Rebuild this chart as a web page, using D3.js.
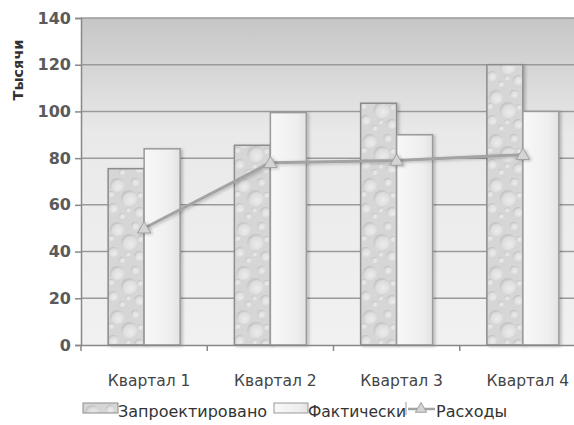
<!DOCTYPE html>
<html>
<head>
<meta charset="utf-8">
<script src="https://cdn.jsdelivr.net/npm/d3@7"></script>
<style>
  body { margin: 0; background: #fff; }
  svg { display: block; }
  svg text { font-family: "DejaVu Sans", Verdana, sans-serif; }
</style>
</head>
<body>
<div id="chart"></div>
<script>
// data
var categories = ["Квартал 1", "Квартал 2", "Квартал 3", "Квартал 4"];
var planned = [75.5, 85.5, 103.5, 120];
var actual = [84, 99.5, 90, 100];
var expenses = [50, 78, 79, 81.5];
var yTicks = [0, 20, 40, 60, 80, 100, 120, 140];
var seriesNames = ["Запроектировано", "Фактически", "Расходы"];

var W = 574, H = 425;
var box = {x1: 81, y1: 18, x2: 586, y2: 345};

var svg = d3.select("#chart").append("svg")
  .attr("width", W).attr("height", H);

var defs = svg.append("defs");

// plot background gradient
var bg = defs.append("linearGradient").attr("id", "bgGrad")
  .attr("x1", 0).attr("y1", 0).attr("x2", 0).attr("y2", 1);
bg.append("stop").attr("offset", "0").attr("stop-color", "#c6c6c6");
bg.append("stop").attr("offset", "0.35").attr("stop-color", "#e9e9e9");
bg.append("stop").attr("offset", "1").attr("stop-color", "#f1f1f1");

// actual bars gradient
var ag = defs.append("linearGradient").attr("id", "actGrad")
  .attr("x1", 0).attr("y1", 0).attr("x2", 1).attr("y2", 0);
ag.append("stop").attr("offset", "0").attr("stop-color", "#f8f8f8");
ag.append("stop").attr("offset", "0.75").attr("stop-color", "#eeeeee");
ag.append("stop").attr("offset", "1").attr("stop-color", "#e2e2e2");

// water drop texture for planned bars
var pat = defs.append("pattern").attr("id", "drops")
  .attr("patternUnits", "userSpaceOnUse")
  .attr("width", 36).attr("height", 44);
pat.append("rect").attr("width", 36).attr("height", 44).attr("fill", "#d6d6d6");
var dropG = defs.append("radialGradient").attr("id", "dropGrad")
  .attr("cx", 0.6).attr("cy", 0.65).attr("r", 0.6);
dropG.append("stop").attr("offset", "0").attr("stop-color", "#ececec");
dropG.append("stop").attr("offset", "0.75").attr("stop-color", "#dddddd");
dropG.append("stop").attr("offset", "1").attr("stop-color", "#c4c4c4");
[[9, 9, 7], [27, 6, 4], [21, 22, 8], [5, 32, 5], [31, 36, 5], [14, 40, 3], [32, 19, 3], [3, 18, 3], [20, 34, 2.5]].forEach(function(d){
  pat.append("circle").attr("cx", d[0]).attr("cy", d[1]).attr("r", d[2])
    .attr("fill", "url(#dropGrad)");
});

var shadow = defs.append("filter").attr("id", "shadow")
  .attr("x", "-20%").attr("y", "-20%").attr("width", "150%").attr("height", "150%");
shadow.append("feDropShadow").attr("dx", 2).attr("dy", 1).attr("stdDeviation", 1.5)
  .attr("flood-color", "#000").attr("flood-opacity", 0.22);

// scales
var x = d3.scaleBand().domain(categories).range([box.x1, box.x2]);
var inner = d3.scaleBand().domain(["p", "a"]).range([0, 72]);
var y = d3.scaleLinear().domain([0, 140]).range([box.y2, box.y1]);

// plot area
svg.append("rect")
  .attr("x", box.x1).attr("y", box.y1)
  .attr("width", box.x2 - box.x1).attr("height", box.y2 - box.y1)
  .attr("fill", "url(#bgGrad)");

// gridlines
svg.append("g").selectAll("line").data(yTicks.slice(1)).join("line")
  .attr("x1", box.x1).attr("x2", box.x2)
  .attr("y1", function(d){ return y(d); }).attr("y2", function(d){ return y(d); })
  .attr("stroke", "#9a9a9a").attr("stroke-width", 1.5);

// bars
var groups = svg.append("g").selectAll("g").data(categories).join("g")
  .attr("transform", function(d){ return "translate(" + (x(d) + x.bandwidth() / 2 - 36) + ",0)"; });

groups.append("rect")
  .attr("x", inner("p"))
  .attr("y", function(d, i){ return y(planned[i]); })
  .attr("width", inner.bandwidth())
  .attr("height", function(d, i){ return y(0) - y(planned[i]); })
  .attr("fill", "url(#drops)")
  .attr("stroke", "#8c8c8c").attr("stroke-width", 1.5)
  .attr("filter", "url(#shadow)");

groups.append("rect")
  .attr("x", inner("a"))
  .attr("y", function(d, i){ return y(actual[i]); })
  .attr("width", inner.bandwidth())
  .attr("height", function(d, i){ return y(0) - y(actual[i]); })
  .attr("fill", "url(#actGrad)")
  .attr("stroke", "#9a9a9a").attr("stroke-width", 1.5)
  .attr("filter", "url(#shadow)");

// expenses line
var line = d3.line()
  .x(function(d, i){ return x(categories[i]) + x.bandwidth() / 2; })
  .y(function(d){ return y(d); });

svg.append("path")
  .datum(expenses)
  .attr("d", line)
  .attr("fill", "none")
  .attr("stroke", "#a3a3a3")
  .attr("stroke-width", 3)
  .attr("stroke-linejoin", "round")
  .attr("filter", "url(#shadow)");

var tri = d3.symbol().type(d3.symbolTriangle).size(75);
svg.append("g").selectAll("path").data(expenses).join("path")
  .attr("d", tri)
  .attr("transform", function(d, i){ return "translate(" + (x(categories[i]) + x.bandwidth() / 2) + "," + (y(d) + 1) + ")"; })
  .attr("fill", "#d4d4d4").attr("stroke", "#a0a0a0").attr("stroke-width", 1)
  .attr("filter", "url(#shadow)");

// axes
var yAxis = d3.axisLeft(y).tickValues(yTicks).tickSize(6).tickPadding(4);
var gy = svg.append("g").attr("transform", "translate(" + box.x1 + ",0)").call(yAxis)
  .attr("font-family", null).attr("font-size", null);
gy.select(".domain").attr("stroke", "#888").attr("stroke-width", 1.5);
gy.selectAll(".tick line").attr("stroke", "#888").attr("stroke-width", 1.5);
gy.selectAll(".tick text")
  .attr("fill", "#5a5a5a")
  .attr("font-size", 16).attr("font-weight", "bold");

var xAxis = d3.axisBottom(x).tickSize(0).tickFormat("");
var gx = svg.append("g").attr("transform", "translate(0," + box.y2 + ")").call(xAxis);
gx.select(".domain").attr("stroke", "#888").attr("stroke-width", 1.5);
var bounds = [box.x1].concat(categories.map(function(c){ return x(c) + x.bandwidth(); }));
gx.selectAll(".sep").data(bounds).join("line").attr("class", "sep")
  .attr("x1", function(d){ return d; }).attr("x2", function(d){ return d; })
  .attr("y1", 0).attr("y2", 6)
  .attr("stroke", "#888").attr("stroke-width", 1.5);

svg.append("g").selectAll("text").data(categories).join("text")
  .attr("x", function(d){ return x(d) + x.bandwidth() / 2 + 5; })
  .attr("y", 386)
  .attr("text-anchor", "middle")
  .attr("fill", "#444")
  .attr("font-size", 15.5)
  .text(function(d){ return d; });

// y title
svg.append("text")
  .attr("transform", "translate(23,70) rotate(-90)")
  .attr("text-anchor", "middle")
  .attr("fill", "#333")
  .attr("font-size", 14.5).attr("font-weight", "bold")
  .text("Тысячи");

// legend
var lg = svg.append("g").attr("transform", "translate(83,403)");
lg.append("rect").attr("x", 0).attr("y", 0).attr("width", 35).attr("height", 10)
  .attr("fill", "url(#drops)").attr("stroke", "#8c8c8c");
lg.append("text").attr("x", 35).attr("y", 14).attr("fill", "#333")
  .attr("font-size", 16).text(seriesNames[0]);
lg.append("rect").attr("x", 191).attr("y", 0).attr("width", 34).attr("height", 10)
  .attr("fill", "url(#actGrad)").attr("stroke", "#9a9a9a");
lg.append("text").attr("x", 225).attr("y", 14).attr("fill", "#333")
  .attr("font-size", 15.5).text(seriesNames[1]);
lg.append("line").attr("x1", 323).attr("x2", 323).attr("y1", -1).attr("y2", 12)
  .attr("stroke", "#999").attr("stroke-width", 1);
lg.append("line").attr("x1", 325).attr("x2", 352).attr("y1", 6).attr("y2", 6)
  .attr("stroke", "#a3a3a3").attr("stroke-width", 2.5);
lg.append("path").attr("d", d3.symbol().type(d3.symbolTriangle).size(55))
  .attr("transform", "translate(338,6)")
  .attr("fill", "#d4d4d4").attr("stroke", "#a0a0a0");
lg.append("text").attr("x", 353).attr("y", 14).attr("fill", "#333")
  .attr("font-size", 16).text(seriesNames[2]);
</script>
</body>
</html>
